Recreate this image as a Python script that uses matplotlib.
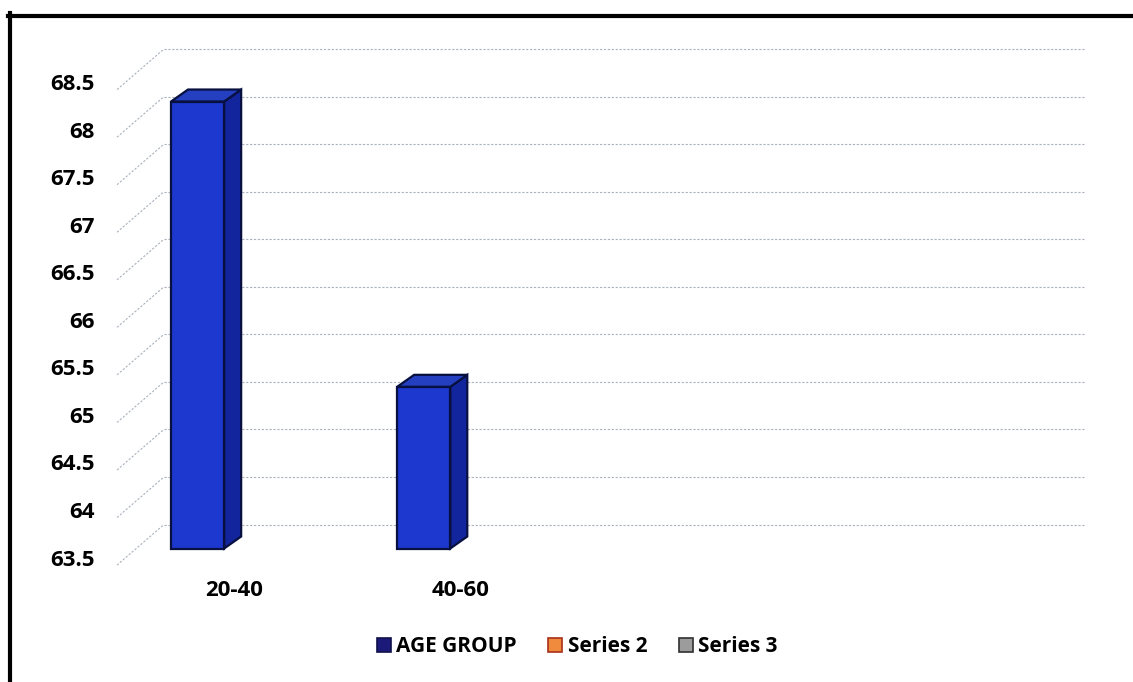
import numpy as np
import matplotlib.pyplot as plt
from matplotlib.patches import Polygon, Rectangle
from matplotlib.lines import Line2D

plt.rcParams['font.family'] = ['Open Sans', 'DejaVu Sans']
plt.rcParams['font.weight'] = 'bold'

# dados
categorias = ["20-40", "40-60"]
age_group = [68.2, 65.2]
series = ["AGE GROUP", "Series 2", "Series 3"]
cores_legenda = ["#1c1a78", "#f08a3c", "#9c9c9c"]
bordas_legenda = ["#10104a", "#a8301a", "#303030"]
y_ticks = np.arange(63.5, 68.51, 0.5)
y_base = 63.5

W, H = 1133, 682
fig = plt.figure(figsize=(W / 100, H / 100), dpi=100)


def caixa_px(x0, y0, x1, y1):
    return [x0 / W, 1 - y1 / H, (x1 - x0) / W, (y1 - y0) / H]


ax = fig.add_axes(caixa_px(117, 82, 1038, 557.5))
xmin, xmax = -0.52, 3.553
ax.set_xlim(xmin, xmax)
ax.set_ylim(63.5, 68.5)

# pixels -> unidades de dados
sx = ax.bbox.width / (xmax - xmin)
sy = ax.bbox.height / (68.5 - 63.5)


def px(dx, dy):
    return dx / sx, dy / sy


# parede do fundo e linhas diagonais do piso
fx, fy = px(47, 33)
grade = dict(color="#a9b2be", lw=0.8, ls=(0, (2, 1.5)), clip_on=False, zorder=1)
for y in y_ticks:
    ax.plot([xmin + fx, xmax + fx], [y + fy, y + fy], **grade)
    ax.plot([xmin, xmin + fx], [y - 0.08, y + fy], **grade)

# barras com efeito 3D
largura = 0.235
ox, oy = px(-37, 9)
pdx, pdy = px(17, 12)
frente = "#1d38cf"
lado = "#12259c"
topo = "#2440c0"
borda = "#081040"
for i, v in enumerate(age_group):
    x0 = i + ox - largura / 2
    x1 = x0 + largura
    b = y_base + oy
    t = v + oy
    ax.add_patch(Polygon([(x1, b), (x1 + pdx, b + pdy), (x1 + pdx, t + pdy), (x1, t)],
                         closed=True, fc=lado, ec=borda, lw=1.6, clip_on=False, zorder=3))
    ax.add_patch(Polygon([(x0, t), (x0 + pdx, t + pdy), (x1 + pdx, t + pdy), (x1, t)],
                         closed=True, fc=topo, ec=borda, lw=1.6, clip_on=False, zorder=3))
    ax.add_patch(Rectangle((x0, b), largura, v - y_base, fc=frente, ec=borda,
                           lw=1.6, clip_on=False, zorder=4))

ax.set_yticks(y_ticks)
ax.set_yticklabels([f"{y:g}" for y in y_ticks], fontsize=16, fontweight="bold")
ax.set_xticks(range(len(categorias)))
ax.set_xticklabels(categorias, fontsize=16, fontweight="bold")
ax.tick_params(axis="y", length=0, pad=16)
ax.tick_params(axis="x", length=0, pad=16)
for s in ax.spines.values():
    s.set_visible(False)
ax.patch.set_visible(False)

# legenda
handles = [Line2D([], [], ls="", marker="s", markersize=10, markerfacecolor=c,
                  markeredgecolor=e, markeredgewidth=1.2)
           for c, e in zip(cores_legenda, bordas_legenda)]
fig.legend(handles, series, loc="center", bbox_to_anchor=(577 / W, 1 - 647 / H),
           ncol=3, frameon=False, handlelength=0.7, handletextpad=0.25,
           columnspacing=1.5, prop=dict(size=15, weight="bold"))

# moldura (borda esquerda e superior)
fig.add_artist(Line2D([10 / W, 10 / W], [0, 1 - 13 / H], color="black", lw=3))
fig.add_artist(Line2D([8 / W, 1], [1 - 16 / H, 1 - 16 / H], color="black", lw=3))

fig.savefig("out.png", dpi=100)
